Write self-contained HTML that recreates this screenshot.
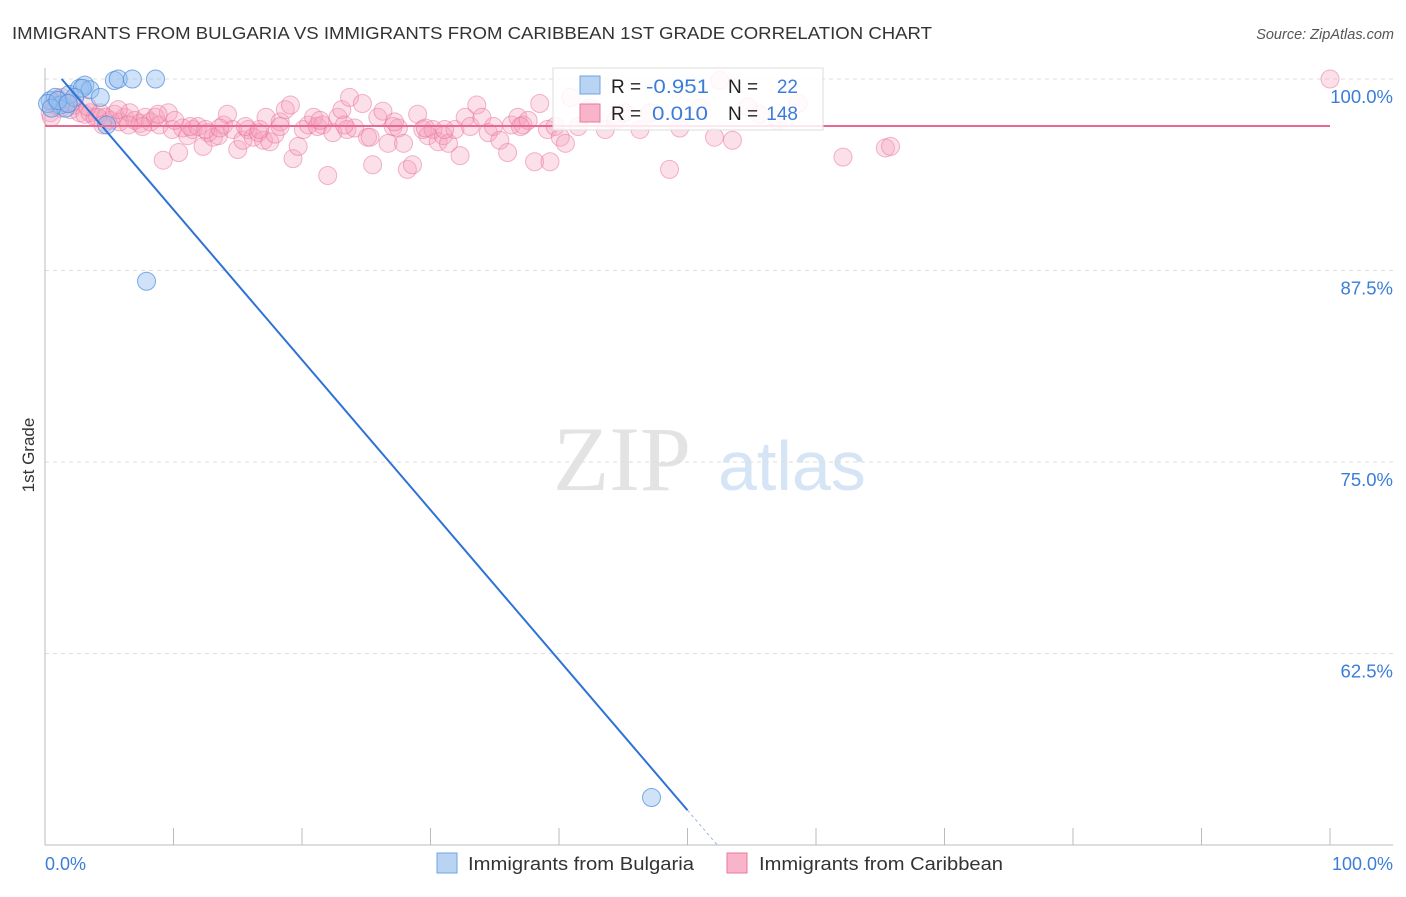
<!DOCTYPE html>
<html><head><meta charset="utf-8"><style>
body{margin:0;background:#fff;font-family:"Liberation Sans",sans-serif}
svg text{font-family:"Liberation Sans",sans-serif}
</style></head><body>
<svg id="chart" width="1406" height="892" xmlns="http://www.w3.org/2000/svg">
<text x="12" y="39" font-size="17.5" fill="#333" textLength="920" lengthAdjust="spacingAndGlyphs">IMMIGRANTS FROM BULGARIA VS IMMIGRANTS FROM CARIBBEAN 1ST GRADE CORRELATION CHART</text>
<text x="1394" y="39" font-size="14.5" fill="#555" text-anchor="end" font-style="italic">Source: ZipAtlas.com</text>
<g>
<text x="553" y="490" font-size="92" fill="#e3e3e3" style="font-family:'Liberation Serif',serif">ZIP</text>
<text x="718" y="490" font-size="70" fill="#d6e5f5">atlas</text>
</g>
<g id="grid"></g>
<g id="axes"></g>
<g id="marks"></g>
<text transform="translate(34,455) rotate(-90)" font-size="17" fill="#333" text-anchor="middle">1st Grade</text>
<g>
<rect x="553" y="68" width="270" height="62" fill="#fff" fill-opacity="0.85" stroke="#ddd"/>
<rect x="580" y="76" width="20" height="18" fill="#b9d3f3" stroke="#6fa3e0"/>
<text x="611" y="93" font-size="19" fill="#222">R = </text><text x="646" y="93" font-size="19" fill="#3b7dd8" textLength="63" lengthAdjust="spacingAndGlyphs">-0.951</text>
<text x="728" y="93" font-size="19" fill="#222">N = </text><text x="798" y="93" font-size="19" fill="#3b7dd8" text-anchor="end">22</text>
<rect x="580" y="104" width="20" height="18" fill="#f8b5c9" stroke="#e8799d"/>
<text x="611" y="120" font-size="19" fill="#222">R = </text><text x="652" y="120" font-size="19" fill="#3b7dd8" textLength="56" lengthAdjust="spacingAndGlyphs">0.010</text>
<text x="728" y="120" font-size="19" fill="#222">N = </text><text x="798" y="120" font-size="19" fill="#3b7dd8" text-anchor="end">148</text>
</g>
<g>
<rect x="437" y="853" width="20" height="20" fill="#b9d3f3" stroke="#6fa3e0"/>
<text x="468" y="870" font-size="18" fill="#333" textLength="226" lengthAdjust="spacingAndGlyphs">Immigrants from Bulgaria</text>
<rect x="727" y="853" width="20" height="20" fill="#f8b5c9" stroke="#e8799d"/>
<text x="759" y="870" font-size="18" fill="#333" textLength="244" lengthAdjust="spacingAndGlyphs">Immigrants from Caribbean</text>
</g>
</svg>
<script>
const blueX=[0.4,0.8,1.2,1.6,1.9,2.7,3.1,3.5,2.9,5.4,5.7,6.8,8.6,7.9,47.2,0.2,0.5,1.0,2.3,1.8,4.3,4.8];
const blueY=[98.6,98.8,98.3,98.1,99.0,99.4,99.6,99.3,99.4,99.9,100,100,100,86.8,53.1,98.4,98.1,98.6,98.8,98.4,98.8,97.0];
const pinkX=[0.4,0.8,1.2,1.6,2.0,2.3,2.7,3.1,3.5,3.9,4.3,4.7,5.1,5.4,5.8,6.2,6.6,7.0,7.4,7.8,8.2,8.6,8.9,9.2,9.6,9.9,10.4,10.7,11.1,11.5,11.9,12.3,12.7,13.1,13.5,13.9,14.2,14.6,15.0,15.4,15.8,16.2,16.6,17.0,17.2,17.5,17.9,18.3,18.7,19.1,19.3,19.7,20.1,20.5,20.9,21.2,21.6,22.0,22.4,22.8,23.1,23.5,23.7,24.1,24.7,25.1,25.5,25.9,26.3,26.7,27.1,27.5,27.9,28.2,28.6,29.0,29.4,29.8,30.2,30.6,31.0,31.4,31.9,32.3,32.7,33.1,33.6,34.0,34.5,34.9,35.4,36.0,36.3,36.8,37.2,37.6,38.1,38.5,39.1,39.3,39.7,40.1,40.5,40.9,41.5,42.4,43.6,44.4,45.1,46.3,47.1,48.6,49.4,51.0,52.1,52.5,53.5,54.7,55.6,57.0,58.6,62.1,65.4,65.8,100,0.5,1.0,1.3,2.1,3.3,4.1,4.5,5.7,6.5,7.6,8.8,10.1,11.3,12.5,13.6,15.6,16.7,18.3,21.4,23.3,25.3,27.2,29.6,31.1,37.0];
const pinkY=[97.8,98.3,98.1,98.4,98.0,98.3,97.8,97.7,97.8,97.5,97.8,97.5,97.3,97.7,97.2,97.5,97.8,97.3,97.1,97.5,97.2,97.5,97.0,94.7,97.8,96.7,95.2,96.8,96.3,96.7,96.9,95.6,96.5,96.2,96.3,97.0,97.7,96.7,95.4,96.0,96.7,96.2,96.5,96.0,97.5,95.9,96.4,97.2,98.0,98.3,94.8,95.6,96.7,97.0,97.5,96.9,97.0,93.7,96.5,97.5,98.0,96.7,98.8,96.8,98.4,96.2,94.4,97.5,97.9,95.8,96.9,96.8,95.8,94.1,94.4,97.7,96.7,96.3,96.7,95.9,96.3,95.8,96.7,95.0,97.5,96.9,98.3,97.5,96.5,96.9,96.0,95.2,97.0,97.5,97.0,97.3,94.6,98.4,96.7,94.6,96.9,96.2,95.8,98.8,96.9,98.1,96.7,97.3,97.8,96.7,97.8,94.1,96.8,98.1,96.2,99.9,96.0,98.2,97.7,97.3,98.4,94.9,95.5,95.6,100,97.5,98.7,98.8,98.5,98.2,97.5,97.0,98.0,97.0,96.9,97.7,97.3,96.9,96.7,96.8,96.9,96.7,96.9,97.3,97.0,96.2,97.2,96.8,96.7,96.9];
const yTicks=[100,87.5,75,62.5];
const yTickLabels=["100.0%","87.5%","75.0%","62.5%"];
const blueTrend=[101.27,-0.98];
const pinkTrend=[96.93,0];
const NS="http://www.w3.org/2000/svg";
const X=v=>45+v*12.85, Y=v=>79+(100-v)*15.32;
function mk(tag,attrs,parent){const e=document.createElementNS(NS,tag);for(const k in attrs)e.setAttribute(k,attrs[k]);document.getElementById(parent).appendChild(e);return e;}
yTicks.forEach((t,i)=>{
 const g=mk('line',{x1:45,x2:1393,y1:Y(t),y2:Y(t),stroke:'#ddd','stroke-dasharray':'4,4'},'grid');
 
 
 const l=mk('text',{x:1393,y:Y(t)+24,'font-size':18.5,fill:'#3b7dd8','text-anchor':'end'},'grid');
 l.textContent=yTickLabels[i];
 
 
});
const ax=mk('line',{x1:45,x2:45,y1:68,y2:845,stroke:'#bbb'},'axes');


const bx=mk('line',{x1:45,x2:1393,y1:845,y2:845,stroke:'#bbb'},'axes');


for(let k=0;k<=10;k++){
 const t=mk('line',{x1:X(k*10),x2:X(k*10),y1:828,y2:845,stroke:'#bbb'},'axes');
 
 
}
const x0=mk('text',{x:45,y:870,'font-size':18,fill:'#3b7dd8'},'axes');x0.textContent='0.0%';


const x1=mk('text',{x:1393,y:870,'font-size':18,fill:'#3b7dd8','text-anchor':'end'},'axes');x1.textContent='100.0%';


pinkX.forEach((v,i)=>{
 const c=mk('circle',{cx:X(v),cy:Y(pinkY[i]),r:9,fill:'rgba(246,160,188,0.32)',stroke:'rgba(232,110,150,0.5)','stroke-width':1},'marks');
 
 
});
blueX.forEach((v,i)=>{
 const c=mk('circle',{cx:X(v),cy:Y(blueY[i]),r:9,fill:'rgba(150,190,240,0.45)',stroke:'rgba(70,140,220,0.7)','stroke-width':1},'marks');
 
 
});
const bf=v=>blueTrend[0]+blueTrend[1]*v;
const xs=(blueTrend[0]-100)/-blueTrend[1], xe=50, xz=(blueTrend[0]-50)/-blueTrend[1];
const bl=mk('line',{x1:X(xs),y1:Y(bf(xs)),x2:X(xe),y2:Y(bf(xe)),stroke:'#2f72d6','stroke-width':2},'marks');


const bd=mk('line',{x1:X(xe),y1:Y(bf(xe)),x2:X(xz),y2:Y(bf(xz)),stroke:'#9bb8e0','stroke-width':1,'stroke-dasharray':'3,3'},'marks');


const pl=mk('line',{x1:X(0),y1:Y(pinkTrend[0]),x2:X(100),y2:Y(pinkTrend[0]+pinkTrend[1]*100),stroke:'#e8688f','stroke-width':2},'marks');


</script>
</body></html>
